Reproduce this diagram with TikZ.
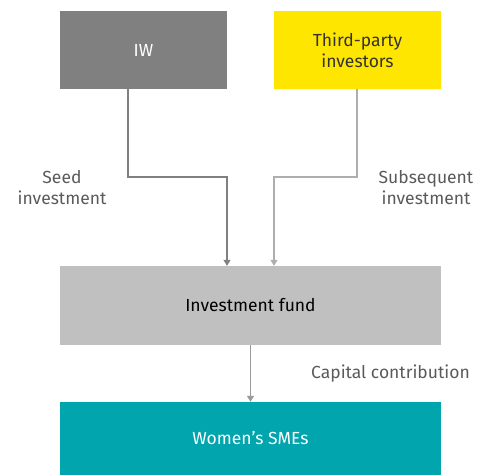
\documentclass[tikz,border=0pt]{standalone}
\usepackage{fontspec}
\setmainfont{Fira Sans}
\usetikzlibrary{arrows.meta}
\definecolor{iwgray}{HTML}{808080}
\definecolor{eyyellow}{HTML}{FFE600}
\definecolor{fundgray}{HTML}{C0C0C0}
\definecolor{teal}{HTML}{00A5AE}
\definecolor{labelgray}{HTML}{5A5A5A}
\definecolor{linegray}{HTML}{9A9A9A}
\begin{document}
\begin{tikzpicture}[x=1pt,y=-1pt,
  box/.style={draw=none,minimum height=#1,inner sep=0pt,align=center,font=\fontsize{17.5}{21}\selectfont},
  lbl/.style={text=labelgray,align=center,font=\fontsize{17.5}{21}\selectfont,inner sep=0pt},
  conn/.style={draw=linegray,line width=1.2pt,-{Triangle[length=6pt,width=7pt]}}]
\useasboundingbox (0,0) rectangle (477,475);
\node[box=78pt,fill=iwgray,minimum width=167pt,text=white] (iw) at (143.5,50) {IW};
\node[box=78pt,fill=eyyellow,minimum width=167pt,text=black!80] (tp) at (357.5,50) {Third-party\\investors};
\node[box=79pt,fill=fundgray,minimum width=381pt,text=black] (fund) at (250.5,305.5) {Investment fund};
\node[box=73pt,fill=teal,minimum width=381pt,text=white] (sme) at (250.5,438.5) {Women's SMEs};
\coordinate (a1) at (128,177);
\coordinate (a2) at (227,177);
\coordinate (b1) at (357,177);
\coordinate (b2) at (274,177);
\draw[conn,draw=iwgray] (iw.south -| a1) -- (a1) -- (a2) -- (a2 |- fund.north);
\draw[conn,draw=linegray!80] (tp.south -| b1) -- (b1) -- (b2) -- (b2 |- fund.north);
\draw[conn] (fund.south) -- (sme.north);
\node[lbl] (seed) at (62,188) {Seed\\investment};
\node[lbl] (subs) at (426,188) {Subsequent\\investment};
\node[lbl,anchor=west] (cap) at (311,374) {Capital contribution};
\end{tikzpicture}
\end{document}
